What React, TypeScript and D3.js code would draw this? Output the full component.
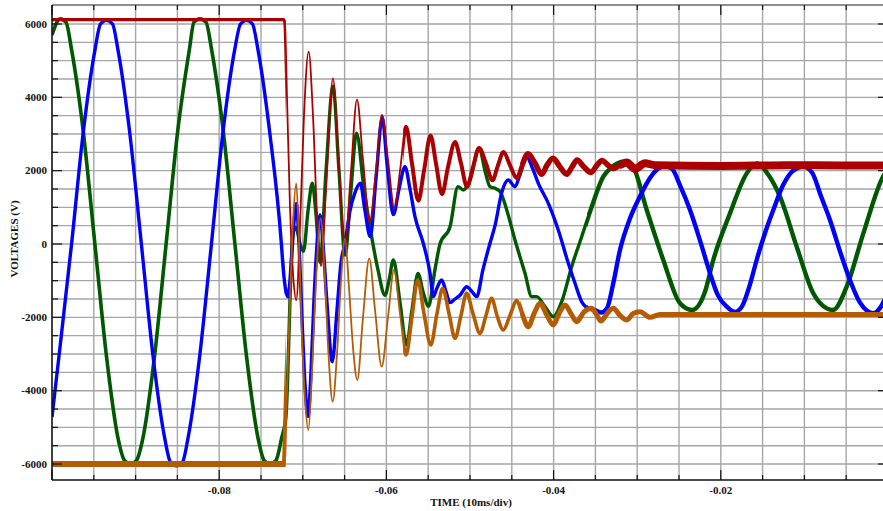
import React from "react";
import * as d3 from "d3";

// Four voltage traces, [time in ms, volts]
const redPoints: [number, number][] = [
  [-100, 6120], [-72.25, 6120], [-72.13, 6000], [-71.89, 4000], [-71.53, 1000], [-71.17, -800],
  [-70.78, -1530], [-70.33, 500], [-69.86, 3500], [-69.3, 5245], [-68.78, 3500], [-68.3, 800],
  [-67.82, -600], [-67.22, 1500], [-66.39, 4519], [-65.79, 2500], [-64.95, 0], [-64.23, 2000],
  [-63.52, 3946], [-62.8, 2300], [-62.0, 608], [-61.24, 2000], [-60.53, 3520], [-59.81, 2300],
  [-59.03, 950], [-58.37, 2000], [-57.66, 3200], [-56.94, 2200], [-56.18, 1180], [-55.5, 2000],
  [-54.72, 2960], [-54.07, 2200], [-53.35, 1360], [-52.63, 2100], [-51.79, 2780], [-51.08, 2200],
  [-50.36, 1560], [-49.64, 2100], [-48.92, 2620], [-48.09, 2200], [-47.31, 1740], [-46.65, 2150],
  [-45.99, 2510], [-45.22, 2150], [-44.41, 1800], [-43.78, 2150], [-43.06, 2460], [-42.22, 2200],
  [-41.42, 1900], [-40.79, 2150], [-40.07, 2340], [-39.23, 2100], [-38.43, 1900], [-37.8, 2100],
  [-37.2, 2290], [-36.36, 2100], [-35.53, 1950], [-34.81, 2150], [-34.21, 2280], [-33.49, 2150],
  [-32.86, 2060], [-32.06, 2150], [-31.26, 2220], [-30.26, 2050], [-29.07, 2200], [-27.87, 2150],
  [-20, 2130], [-12, 2150], [-5, 2140], [0, 2140],
];

const orangePoints: [number, number][] = [
  [-100, -6000], [-72.25, -6000], [-72.13, -5900], [-71.89, -4000], [-71.53, -1500], [-71.17, 600],
  [-70.78, 1655], [-70.45, 0], [-70.1, -2500], [-69.74, -4200], [-69.34, -5073], [-68.9, -3500],
  [-68.42, -1000], [-67.86, 700], [-67.34, -1000], [-66.93, -3000], [-66.42, -4300], [-65.91, -3000],
  [-65.43, -1000], [-64.95, 150], [-64.47, -1200], [-64.0, -2800], [-63.48, -3709], [-62.8, -2000],
  [-62.05, -390], [-61.36, -1800], [-60.56, -3346], [-59.81, -2000], [-59.09, -709], [-58.37, -1900],
  [-57.66, -3027], [-56.94, -2000], [-56.26, -982], [-55.5, -1900], [-54.7, -2754], [-53.95, -1900],
  [-53.27, -1208], [-52.51, -1900], [-51.79, -2572], [-51.08, -1950], [-50.4, -1345], [-49.64, -1900],
  [-48.8, -2436], [-48.09, -1950], [-47.41, -1481], [-46.77, -1950], [-46.02, -2345], [-45.22, -1950],
  [-44.41, -1545], [-43.78, -1900], [-43.03, -2254], [-42.34, -1900], [-41.63, -1618], [-40.79, -1950],
  [-40.04, -2209], [-39.35, -1900], [-38.64, -1663], [-37.92, -1900], [-37.24, -2118], [-36.36, -1850],
  [-35.44, -1755], [-34.93, -1900], [-34.33, -2100], [-33.61, -1900], [-32.86, -1755], [-32.06, -1950],
  [-31.26, -2073], [-30.5, -1900], [-29.67, -1845], [-28.47, -2000], [-27.27, -1920], [0, -1920],
];

const bluePoints: [number, number][] = [
  [-100, -4720], [-99.16, -3050], [-97.66, 0], [-96.26, 3050], [-94.87, 5280], [-94.2, 6000],
  [-93.48, 6100], [-92.76, 6000], [-92.1, 5280], [-90.71, 3050], [-89.31, 0], [-87.92, -3050],
  [-86.53, -5280], [-85.83, -5950], [-85.11, -6050], [-84.39, -5950], [-83.72, -5280], [-82.33, -3050],
  [-80.93, 0], [-79.55, 3050], [-78.16, 5280], [-77.45, 6000], [-76.73, 6100], [-76.02, 6000],
  [-75.35, 5280], [-73.96, 3050], [-72.56, 0], [-72.37, -600], [-72.01, -1300], [-71.77, -1440],
  [-71.41, -600], [-71.05, 600], [-70.78, 1100], [-70.45, 0], [-70.1, -2000], [-69.74, -3800],
  [-69.38, -4700], [-69.02, -3500], [-68.66, -1500], [-68.3, 0], [-67.94, 790], [-67.58, 0],
  [-67.11, -1600], [-66.47, -3210], [-65.91, -1800], [-65.43, -500], [-64.95, 20], [-64.36, 900],
  [-63.76, 1400], [-63.12, 1655], [-62.56, 900], [-61.93, 200], [-61.24, 1800], [-60.49, 3450],
  [-59.93, 2200], [-59.17, 800], [-58.49, 1500], [-57.78, 2108], [-57.18, 1500], [-56.58, 745],
  [-55.59, 20], [-54.78, -800], [-54.39, -1436], [-53.95, -1200], [-53.39, -982], [-52.87, -1300],
  [-52.39, -1600], [-51.79, -1500], [-51.2, -1400], [-50.4, -1164], [-49.76, -1300], [-49.2, -1436],
  [-48.45, -700], [-47.61, 20], [-47.01, 500], [-46.21, 1400], [-45.42, 1745], [-44.62, 1563],
  [-44.02, 1900], [-43.22, 2380], [-42.58, 2100], [-41.83, 1655], [-40.63, 1110], [-39.44, 382],
  [-38.24, -527], [-37.44, -1072], [-36.64, -1573], [-35.85, -1755], [-35.05, -1800], [-34.33, -1870],
  [-33.61, -1750], [-32.89, -1100], [-32.06, -164], [-30.86, 700], [-29.67, 1300], [-28.47, 1800],
  [-27.51, 2050], [-26.67, 2120], [-25.84, 2050], [-24.88, 1600], [-23.68, 927], [-22.49, 100],
  [-21.29, -800], [-20.34, -1400], [-19.29, -1710], [-18.3, -1850], [-17.46, -1700], [-16.51, -1100],
  [-15.71, -436], [-14.71, 300], [-13.72, 927], [-12.56, 1600], [-11.36, 2000], [-10.13, 2110],
  [-9.09, 1950], [-8.01, 1300], [-6.94, 655], [-5.74, -200], [-4.55, -982], [-3.35, -1600],
  [-2.51, -1820], [-1.76, -1890], [-0.96, -1750], [0, -1300],
];

const greenPoints: [number, number][] = [
  [-100, 5700], [-99.04, 6140], [-98.33, 6050], [-97.66, 5300], [-96.26, 3070], [-94.87, 0],
  [-93.48, -3070], [-92.1, -5300], [-91.33, -5900], [-90.61, -6000], [-89.89, -5900], [-89.13, -5300],
  [-87.74, -3070], [-86.35, 0], [-84.97, 3070], [-83.57, 5300], [-83.02, 6050], [-82.3, 6140],
  [-81.58, 6050], [-80.91, 5300], [-79.51, 3070], [-78.12, 0], [-76.73, -3070], [-75.35, -5300],
  [-74.64, -5900], [-73.92, -6000], [-73.21, -5900], [-72.54, -5300], [-72.01, -4700], [-71.83, -3800],
  [-71.53, -1500], [-71.17, 300], [-70.81, 450], [-70.33, 0], [-69.92, -200], [-69.38, 900],
  [-68.86, 1655], [-68.42, 800], [-67.94, -500], [-67.22, 2000], [-66.39, 4300], [-65.67, 2000],
  [-64.95, -300], [-64.23, 1500], [-63.58, 3020], [-62.68, 1500], [-61.84, 300], [-61.01, -700],
  [-60.17, -1400], [-59.69, -1000], [-59.17, -436], [-58.37, -1600], [-57.6, -2750], [-56.94, -1800],
  [-56.22, -800], [-55.62, -1300], [-54.97, -1700], [-54.19, -700], [-53.59, 0], [-52.39, 472],
  [-51.44, 1563], [-50.8, 1473], [-50.0, 1745], [-48.89, 2610], [-48.21, 2000], [-47.61, 1563],
  [-47.01, 1518], [-46.41, 1430], [-45.57, 900], [-44.62, 109], [-43.42, -800], [-42.62, -1436],
  [-42.02, -1436], [-41.03, -1710], [-40.04, -1982], [-39.03, -1573], [-37.84, -618], [-36.64, 200],
  [-35.44, 1018], [-34.06, 1836], [-33.01, 2100], [-31.66, 2245], [-30.62, 2150], [-28.86, 927],
  [-26.88, -436], [-24.88, -1618], [-23.44, -1800], [-21.89, -1300], [-20.9, -436], [-18.9, 836],
  [-16.9, 1927], [-15.67, 2200], [-14.35, 1900], [-12.92, 1290], [-10.92, -73], [-8.94, -1345],
  [-7.33, -1755], [-6.58, -1800], [-4.94, -1164], [-2.95, 290], [-0.6, 1836], [0, 2050],
];

const yTickValues = [-6000, -4000, -2000, 0, 2000, 4000, 6000];
const xTickValues = [-0.08, -0.06, -0.04, -0.02];
const xTitle = "TIME (10ms/div)";
const yTitle = "VOLTAGES (V)";

const W = 883;
const H = 511;
const PLOT = { left: 52, top: 5, right: 888, bottom: 480 };
const FONT = "'Liberation Serif', 'Times New Roman', serif";

const x = d3.scaleLinear().domain([-0.1, 0]).range([PLOT.left, PLOT.right]);
const y = d3.scaleLinear().domain([-6436, 6518]).range([PLOT.bottom, PLOT.top]);

const line = d3
  .line<[number, number]>()
  .x((d) => x(d[0] / 1000))
  .y((d) => y(d[1]))
  .curve(d3.curveMonotoneX);

type Band = { from: number; to: number; w: number };
type Trace = { id: string; color: string; points: [number, number][]; bands: Band[] };

// drawing order: green, blue, red, orange (last on top)
const traces: Trace[] = [
  {
    id: "green",
    color: "#005800",
    points: greenPoints,
    bands: [
      { from: -0.1, to: -0.0722, w: 3.6 },
      { from: -0.0722, to: -0.036, w: 3.4 },
      { from: -0.036, to: 0, w: 4.4 },
    ],
  },
  {
    id: "blue",
    color: "#0000ff",
    points: bluePoints,
    bands: [
      { from: -0.1, to: -0.0722, w: 3.4 },
      { from: -0.0722, to: -0.036, w: 3.4 },
      { from: -0.036, to: 0, w: 4.4 },
    ],
  },
  {
    id: "red",
    color: "#aa0000",
    points: redPoints,
    bands: [
      { from: -0.1, to: -0.0721, w: 3.2 },
      { from: -0.0721, to: -0.058, w: 1.8 },
      { from: -0.058, to: -0.044, w: 4 },
      { from: -0.044, to: -0.032, w: 5.5 },
      { from: -0.032, to: 0, w: 8 },
    ],
  },
  {
    id: "orange",
    color: "#b45c04",
    points: orangePoints,
    bands: [
      { from: -0.1, to: -0.0721, w: 6 },
      { from: -0.0721, to: -0.058, w: 1.8 },
      { from: -0.058, to: -0.044, w: 3.6 },
      { from: -0.044, to: 0, w: 5 },
    ],
  },
];

export default function App() {
  const vGrid = d3.range(1, 20).map((i) => -0.1 + i * 0.005);
  const hGrid = d3.range(-12, 13).map((i) => i * 500);
  const xTicks = d3.range(0, 21).map((i) => ({ v: -0.1 + i * 0.005, major: i % 4 === 0 }));
  const yTicks = d3.range(-12, 13).map((i) => ({ v: i * 500, major: i % 4 === 0 }));

  return (
    <svg
      width={W}
      height={H}
      viewBox={`0 0 ${W} ${H}`}
      style={{ position: "absolute", left: 0, top: 0, background: "#fff" }}
    >
      <defs>
        {traces.map((t) =>
          t.bands.map((b, i) => (
            <clipPath id={`clip-${t.id}-${i}`} key={`${t.id}-${i}`}>
              <rect
                x={Math.max(x(b.from), PLOT.left)}
                y={PLOT.top}
                width={Math.min(x(b.to), PLOT.right) - Math.max(x(b.from), PLOT.left) + (i < t.bands.length - 1 ? 0.6 : 0)}
                height={PLOT.bottom - PLOT.top}
              />
            </clipPath>
          ))
        )}
      </defs>
      <rect x={0} y={0} width={W} height={H} fill="#fff" />

      {/* grid */}
      <g stroke="#a6a6a6" strokeWidth={1.4}>
        {vGrid.map((v, i) => (
          <line key={`vg${i}`} x1={x(v)} x2={x(v)} y1={PLOT.top} y2={PLOT.bottom} />
        ))}
        {hGrid.map((v, i) => (
          <line key={`hg${i}`} x1={PLOT.left} x2={PLOT.right} y1={y(v)} y2={y(v)} />
        ))}
      </g>

      {/* traces */}
      {traces.map((t) =>
        t.bands.map((b, i) => (
          <path
            key={`${t.id}-p${i}`}
            d={line(t.points) ?? ""}
            fill="none"
            stroke={t.color}
            strokeWidth={b.w}
            strokeLinejoin="round"
            clipPath={`url(#clip-${t.id}-${i})`}
          />
        ))
      )}

      {/* frame */}
      <line x1={PLOT.left} x2={PLOT.right} y1={PLOT.top} y2={PLOT.top} stroke="#6a6a6a" strokeWidth={1.6} />
      <line x1={PLOT.left} x2={PLOT.left} y1={PLOT.top} y2={PLOT.bottom} stroke="#111" strokeWidth={1.6} />
      <line x1={PLOT.left} x2={PLOT.right} y1={PLOT.bottom} y2={PLOT.bottom} stroke="#111" strokeWidth={1.6} />

      {/* ticks */}
      <g stroke="#111" strokeWidth={1.2}>
        {xTicks.map((t, i) => (
          <g key={`xt${i}`}>
            <line x1={x(t.v)} x2={x(t.v)} y1={PLOT.bottom} y2={PLOT.bottom - (t.major ? 10 : 5)} />
            <line x1={x(t.v)} x2={x(t.v)} y1={PLOT.top} y2={PLOT.top + (t.major ? 10 : 5)} />
          </g>
        ))}
        {yTicks.map((t, i) => (
          <g key={`yt${i}`}>
            <line x1={PLOT.left} x2={PLOT.left + (t.major ? 10 : 6)} y1={y(t.v)} y2={y(t.v)} />
            {t.major && <line x1={PLOT.right} x2={PLOT.right - 10} y1={y(t.v)} y2={y(t.v)} />}
          </g>
        ))}
      </g>

      {/* tick labels */}
      <g fontFamily={FONT} fontWeight="bold" fontSize={11} fill="#111">
        {yTickValues.map((v) => (
          <text key={`yl${v}`} x={47} y={y(v) + 3.8} textAnchor="end">
            {String(v)}
          </text>
        ))}
        {xTickValues.map((v) => (
          <text key={`xl${v}`} x={x(v)} y={494} textAnchor="middle">
            {String(v)}
          </text>
        ))}
        <text x={471} y={505.5} textAnchor="middle">
          {xTitle}
        </text>
        <text transform="translate(17.5,239) rotate(-90)" textAnchor="middle">
          {yTitle}
        </text>
      </g>
    </svg>
  );
}
